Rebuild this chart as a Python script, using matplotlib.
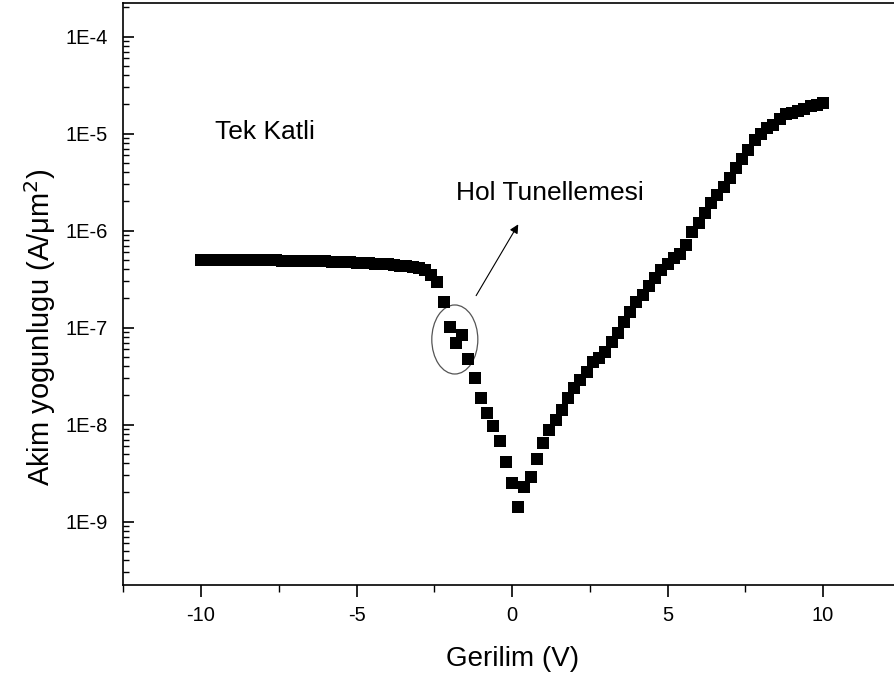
import numpy as np
import matplotlib.pyplot as plt
from matplotlib.patches import Ellipse
from matplotlib.ticker import FixedLocator, FuncFormatter, LogLocator, NullFormatter, MultipleLocator

plt.rcParams['font.family'] = ['Liberation Sans', 'DejaVu Sans']
plt.rcParams['axes.unicode_minus'] = False

# Voltage sweep (V)
gerilim = [-10.0, -9.8, -9.6, -9.4, -9.2, -9.0, -8.8, -8.6, -8.4, -8.2,
           -8.0, -7.8, -7.6, -7.4, -7.2, -7.0, -6.8, -6.6, -6.4, -6.2,
           -6.0, -5.8, -5.6, -5.4, -5.2, -5.0, -4.8, -4.6, -4.4, -4.2,
           -4.0, -3.8, -3.6, -3.4, -3.2, -3.0, -2.8, -2.6, -2.4, -2.2,
           -2.0, -1.8, -1.6, -1.4, -1.2, -1.0, -0.8, -0.6, -0.4, -0.2,
           0.0, 0.2, 0.4, 0.6, 0.8, 1.0, 1.2, 1.4, 1.6, 1.8,
           2.0, 2.2, 2.4, 2.6, 2.8, 3.0, 3.2, 3.4, 3.6, 3.8,
           4.0, 4.2, 4.4, 4.6, 4.8, 5.0, 5.2, 5.4, 5.6, 5.8,
           6.0, 6.2, 6.4, 6.6, 6.8, 7.0, 7.2, 7.4, 7.6, 7.8,
           8.0, 8.2, 8.4, 8.6, 8.8, 9.0, 9.2, 9.4, 9.6, 9.8, 10.0]

# Current density (A/um^2)
akim = [5.02e-7, 5.02e-7, 5.01e-7, 5.00e-7, 5.00e-7, 4.99e-7, 4.98e-7, 4.97e-7, 4.96e-7, 4.96e-7,
        4.95e-7, 4.94e-7, 4.93e-7, 4.92e-7, 4.90e-7, 4.89e-7, 4.88e-7, 4.86e-7, 4.85e-7, 4.83e-7,
        4.81e-7, 4.79e-7, 4.77e-7, 4.75e-7, 4.72e-7, 4.69e-7, 4.66e-7, 4.62e-7, 4.58e-7, 4.54e-7,
        4.49e-7, 4.43e-7, 4.37e-7, 4.29e-7, 4.20e-7, 4.09e-7, 3.90e-7, 3.53e-7, 2.98e-7, 1.85e-7,
        1.01e-7, 6.9e-8, 8.4e-8, 4.7e-8, 3.0e-8, 1.9e-8, 1.31e-8, 9.7e-9, 6.8e-9, 4.16e-9,
        2.49e-9, 1.41e-9, 2.26e-9, 2.91e-9, 4.4e-9, 6.4e-9, 8.81e-9, 1.117e-8, 1.416e-8, 1.87e-8,
        2.37e-8, 2.89e-8, 3.52e-8, 4.46e-8, 4.87e-8, 5.66e-8, 7.07e-8, 8.81e-8, 1.148e-7, 1.44e-7,
        1.85e-7, 2.18e-7, 2.72e-7, 3.25e-7, 3.94e-7, 4.54e-7, 5.28e-7, 5.75e-7, 7.13e-7, 9.70e-7,
        1.20e-6, 1.52e-6, 1.91e-6, 2.33e-6, 2.82e-6, 3.53e-6, 4.43e-6, 5.48e-6, 6.79e-6, 8.61e-6,
        9.93e-6, 1.146e-5, 1.216e-5, 1.42e-5, 1.58e-5, 1.62e-5, 1.71e-5, 1.80e-5, 1.91e-5, 1.98e-5,
        2.06e-5]

y_major = [1e-9, 1e-8, 1e-7, 1e-6, 1e-5, 1e-4]
x_major = [-10, -5, 0, 5, 10]

fig = plt.figure(figsize=(8.94, 6.83), dpi=100)
ax = fig.add_axes([0.1379, 0.1435, 0.8697, 0.8521])

ax.plot(gerilim, akim, 's', color='black', markersize=9, markeredgewidth=0)

ax.set_yscale('log')
ax.set_xlim(-12.5, 12.5)
ax.set_ylim(10 ** -9.653, 10 ** -3.653)

ax.yaxis.set_major_locator(FixedLocator(y_major))
ax.yaxis.set_major_formatter(FuncFormatter(lambda v, p: f"1E{int(round(np.log10(v)))}"))
ax.yaxis.set_minor_locator(LogLocator(base=10, subs=np.arange(2, 10), numticks=20))
ax.yaxis.set_minor_formatter(NullFormatter())
ax.xaxis.set_major_locator(FixedLocator(x_major))
ax.xaxis.set_minor_locator(MultipleLocator(2.5))

ax.tick_params(axis='y', which='major', direction='in', length=8, width=1.2, pad=11, labelsize=14.5)
ax.tick_params(axis='y', which='minor', direction='in', length=4.3, width=1.0)
ax.tick_params(axis='x', which='major', direction='out', length=8.4, width=1.2, pad=7, labelsize=14.5)
ax.tick_params(axis='x', which='minor', direction='out', length=4.8, width=1.0)

for side in ['left', 'bottom', 'top']:
    ax.spines[side].set_linewidth(1.2)
ax.spines['right'].set_visible(False)

ax.set_xlabel('Gerilim (V)', fontsize=20)
ax.xaxis.set_label_coords(0.5006, -0.105)
ax.set_ylabel('Akim yogunlugu (A/μm$^2$)', fontsize=21)
ax.yaxis.label.set_va('center')
ax.yaxis.set_label_coords(-0.107, 0.443)

ax.text(-9.54, 8.8e-6, 'Tek Katli', fontsize=19, va='baseline', ha='left')
ax.text(-1.79, 2.07e-6, 'Hol Tunellemesi', fontsize=19, va='baseline', ha='left')

# arrow pointing from the circled points to the label
ax.annotate('', xy=(0.245, 1.23e-6), xytext=(-1.2, 2.02e-7),
            arrowprops=dict(arrowstyle='-|>', color='black', lw=0.8, mutation_scale=13))

# ellipse around the bump, placed in axes coords so the log scale doesn't warp it
centre = (ax.transData + ax.transAxes.inverted()).transform((-1.84, 10 ** -7.122))
ax.add_patch(Ellipse(centre, 0.0592, 0.1186, transform=ax.transAxes,
                     fill=False, edgecolor='#555555', lw=0.9))

fig.savefig('out.png', dpi=100)
